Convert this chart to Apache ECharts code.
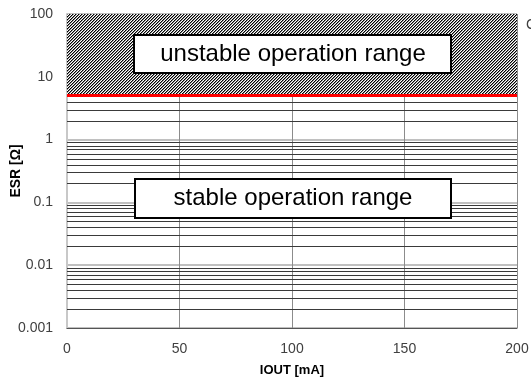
<!DOCTYPE html>
<html>
<head>
<meta charset="utf-8">
<script src="https://cdn.jsdelivr.net/npm/echarts@6/dist/echarts.min.js"></script>
<style>html,body{margin:0;padding:0;background:#fff}#c{width:531px;height:381px}</style>
</head>
<body>
<div id="c"></div>
<script>
// ---- data ----
const xTicks = [0, 50, 100, 150, 200];
const yTickValues = [0.001, 0.01, 0.1, 1, 10, 100];
const yTickLabels = ['0.001', '0.01', '0.1', '1', '10', '100'];
const esrLimit = 5;            // upper ESR limit for stable operation (red line)
const unstableRange = [5, 100];
const regionLabels = ['unstable operation range', 'stable operation range'];
const xName = 'IOUT [mA]';
const yName = 'ESR [Ω]';

// minor log grid lines (2..9 per decade) below the stability limit
const minorValues = [];
for (let e = -3; e <= 0; e++) {
  for (let m = 2; m <= 9; m++) {
    const v = m * Math.pow(10, e);
    if (v < esrLimit) minorValues.push(v);
  }
}

// hatch pattern
const pat = document.createElement('canvas');
pat.width = 3; pat.height = 3;
const pc = pat.getContext('2d');
pc.fillStyle = '#fff'; pc.fillRect(0, 0, 3, 3);
for (let i = 0; i < 3; i++) {
  pc.fillStyle = '#000';
  pc.fillRect(i, 2 - i, 1, 1);
  pc.fillStyle = '#8a8a8a';
  pc.fillRect(i, (3 - i) % 3, 1, 1);
}

const chart = echarts.init(document.getElementById('c'), null, {renderer: 'canvas'});
const fontFamily = 'Liberation Sans, Arial, sans-serif';
const xMin = xTicks[0], xMax = xTicks[xTicks.length - 1];
chart.setOption({
  animation: false,
  grid: {left: 67, right: 14, top: 14, bottom: 53, containLabel: false, outerBoundsMode: 'none'},
  xAxis: {
    type: 'value', min: xMin, max: xMax, interval: 50,
    name: xName, nameLocation: 'middle', nameGap: 36, nameMoveOverlap: false,
    nameTextStyle: {fontFamily, fontSize: 13, fontWeight: 'bold', color: '#000'},
    axisLine: {show: true, lineStyle: {color: '#555', width: 1}},
    axisTick: {show: false},
    axisLabel: {fontFamily, fontSize: 14, color: '#404040', margin: 14},
    splitLine: {show: true, lineStyle: {color: '#8c8c8c', width: 1}}
  },
  yAxis: {
    type: 'log', logBase: 10, min: yTickValues[0], max: yTickValues[yTickValues.length - 1],
    name: yName, nameLocation: 'middle', nameGap: 44, nameMoveOverlap: false,
    nameTextStyle: {fontFamily, fontSize: 14, fontWeight: 'bold', color: '#000'},
    axisLine: {show: true, lineStyle: {color: '#c8c8c8', width: 2}},
    axisTick: {show: false},
    axisLabel: {
      fontFamily, fontSize: 14, color: '#404040', margin: 14,
      formatter: function (v) {
        for (let i = 0; i < yTickValues.length; i++) {
          if (Math.abs(Math.log10(v) - Math.log10(yTickValues[i])) < 1e-6) return yTickLabels[i];
        }
        return '';
      }
    },
    splitLine: {show: true, lineStyle: {color: '#c0c0c0', width: 2}}
  },
  series: [{
    type: 'custom', silent: true, z: 1,
    data: minorValues.map(v => [xMin, v]),
    encode: {x: 0, y: 1},
    renderItem: function (params, api) {
      const v = api.value(1);
      const p1 = api.coord([xMin, v]);
      const p2 = api.coord([xMax, v]);
      const y = Math.round(p1[1]) + 0.5;
      return {type: 'line', shape: {x1: p1[0], y1: y, x2: p2[0], y2: y},
              style: {stroke: '#3a3a3a', lineWidth: 1}};
    }
  }, {
    type: 'line', data: [], silent: true, z: 3,
    markArea: {
      silent: true,
      itemStyle: {color: {image: pat, repeat: 'repeat'}},
      data: [[{yAxis: unstableRange[0]}, {yAxis: unstableRange[1]}]]
    }
  }, {
    type: 'line', data: [], silent: true, z: 5,
    markLine: {
      silent: true, symbol: 'none', label: {show: false},
      lineStyle: {color: '#ff0000', width: 3, type: 'solid'},
      data: [{yAxis: esrLimit}]
    }
  }],
  graphic: [
    {type: 'rect', z: 100, shape: {x: 134, y: 35, width: 317, height: 38},
     style: {fill: '#fff', stroke: '#000', lineWidth: 2}},
    {type: 'text', z: 101, x: 293, y: 54,
     style: {text: regionLabels[0], font: '24px ' + fontFamily, fill: '#000', align: 'center', verticalAlign: 'middle'}},
    {type: 'rect', z: 100, shape: {x: 135, y: 179, width: 316, height: 39},
     style: {fill: '#fff', stroke: '#000', lineWidth: 2}},
    {type: 'text', z: 101, x: 293, y: 198.5,
     style: {text: regionLabels[1], font: '24px ' + fontFamily, fill: '#000', align: 'center', verticalAlign: 'middle'}},
    {type: 'text', z: 101, x: 526, y: 18,
     style: {text: 'C', font: '14px ' + fontFamily, fill: '#404040'}}
  ]
});
</script>
</body>
</html>
